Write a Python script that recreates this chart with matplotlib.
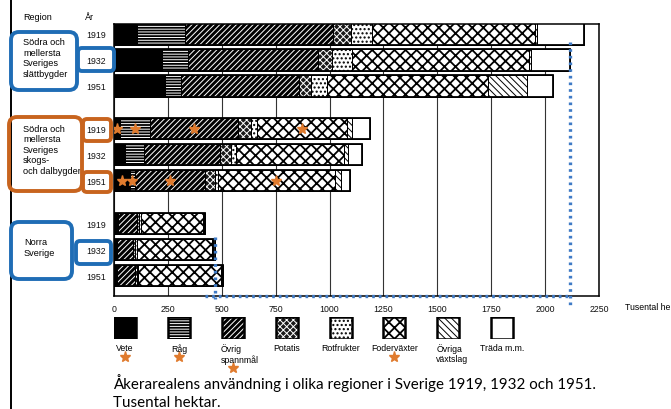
import numpy as np
import matplotlib.pyplot as plt
from matplotlib.patches import Rectangle, FancyBboxPatch
from matplotlib.transforms import IdentityTransform
from matplotlib.lines import Line2D

W, H = 671, 410

plt.rcParams["font.family"] = ["Liberation Sans", "DejaVu Sans"]

kategorier = ["Vete", "Råg", "Övrig\nspannmål", "Potatis", "Rotfrukter",
              "Foderväxter", "Övriga\nväxtslag", "Träda m.m."]
regioner = ["Södra och\nmellersta\nSveriges\nslättbygder",
            "Södra och\nmellersta\nSveriges\nskogs-\noch dalbygder",
            "Norra\nSverige"]
ar = ["1919", "1932", "1951"]

# tusental hektar, samma ordning som kategorier
slatt_1919 = [107, 222, 687, 83, 98, 756, 9, 218]
slatt_1932 = [223, 120, 603, 65, 93, 821, 9, 181]
slatt_1951 = [237, 74, 547, 56, 74, 747, 181, 120]
skog_1919 = [30, 137, 408, 60, 28, 418, 23, 83]
skog_1932 = [51, 88, 353, 51, 23, 501, 18, 65]
skog_1951 = [74, 23, 325, 46, 14, 543, 28, 42]
norr_1919 = [14, 4, 89, 10, 8, 288, 4, 5]
norr_1932 = [9, 4, 75, 10, 11, 345, 5, 9]
norr_1951 = [10, 3, 84, 8, 6, 385, 4, 5]

staplar = [slatt_1919, slatt_1932, slatt_1951,
           skog_1919, skog_1932, skog_1951,
           norr_1919, norr_1932, norr_1951]

# grödor markerade med stjärna, och vilka staplar som får stjärnor
stjarn_kat = [0, 1, 2, 5]
stjarn_staplar = [3, 5]

# (fyllning, mönster, mönsterfärg, mönsterbredd)
monster = [
    ("black", None, None, 1.0),
    ("black", "------", "white", 0.7),
    ("black", "//////", "white", 0.7),
    ("#1a1a1a", "xxxxx", "white", 0.7),
    ("white", "....", "black", 1.0),
    ("white", "xxx", "black", 1.3),
    ("white", "\\\\\\\\\\", "black", 0.7),
    ("white", None, None, 1.0),
]

BLA = "#1f6db5"
ORANGE = "#c8641e"
STJARNA = "#e07b2e"
PRICK = "#3f7bc6"


def px(x, y):
    return x, H - y


def ruta(ax, x, y, w, h, face, hatch, hc, hlw, zorder=2, kant=0.7):
    with plt.rc_context({"hatch.linewidth": hlw}):
        p = Rectangle((x, y), w, h, facecolor=face,
                      edgecolor=hc if hatch else face, hatch=hatch,
                      linewidth=0, zorder=zorder)
    ax.add_patch(p)
    ax.add_patch(Rectangle((x, y), w, h, fill=False, edgecolor="black",
                           linewidth=kant, zorder=zorder + 1))


fig = plt.figure(figsize=(W / 100, H / 100), dpi=100)
ax = fig.add_axes([114 / W, 1 - 297 / H, 485 / W, 272 / H])

pos = [g * 3.65 + j for g in range(3) for j in range(3)]
hojd = 0.82

for y, varden in zip(pos, staplar):
    kant = np.concatenate([[0], np.cumsum(varden)])
    for k, (v, st) in enumerate(zip(varden, monster)):
        ruta(ax, kant[k], y - hojd / 2, v, hojd, *st)
    ax.add_patch(Rectangle((0, y - hojd / 2), kant[-1], hojd, fill=False,
                           edgecolor="black", linewidth=1.3, zorder=5))

for i in stjarn_staplar:
    kant = np.concatenate([[0], np.cumsum(staplar[i])])
    mitt = [(kant[k] + kant[k + 1]) / 2 for k in stjarn_kat]
    ax.plot(mitt, [pos[i]] * len(mitt), ls="none", marker="*", ms=8,
            color=STJARNA, mec=STJARNA, zorder=6)

ax.set_xlim(0, 2250)
ax.set_ylim(10.08, -0.38)
ax.set_xticks(np.arange(0, 2251, 250))
ax.set_yticks(pos, labels=ar * 3)
ax.tick_params(length=0, labelsize=6.3, colors="#111111")
ax.tick_params(axis="x", pad=6)
ax.tick_params(axis="y", pad=6)
ax.grid(axis="x", color="#333333", linewidth=0.8)
ax.set_axisbelow(True)
for s in ax.spines.values():
    s.set_linewidth(1.1)

# prickade hjälplinjer vid 1932 års totaler
tot = [sum(s) for s in staplar]
prick = dict(color=PRICK, lw=2.4, ls=(0, (0.8, 1.2)), clip_on=False,
             zorder=7, dash_capstyle="butt")
ax.plot([tot[1], tot[1]], [0.3, 10.45], **prick)
ax.plot([tot[6], tot[1]], [10.08, 10.08], **prick)
ax.plot([tot[7], tot[7]], [7.8, 10.2], **prick)

fig.text(625 / W, 1 - 308 / H, "Tusental hektar", fontsize=6.3,
         va="center", ha="left")

# teckenförklaring
lax = fig.add_axes([114 / W, 1 - 340 / H, 485 / W, 22 / H])
lax.set_xlim(0, 2250)
lax.set_ylim(0, 1)
lax.axis("off")
for i, (namn, st) in enumerate(zip(kategorier, monster)):
    x0 = i * 250
    ruta(lax, x0, 0, 102, 1, *st, kant=1.8)
    rader = namn.count("\n") + 1
    if rader > 1:
        lax.text(x0 - 5, -0.2, namn, fontsize=6.3, ha="left", va="top",
                 linespacing=1.15, clip_on=False)
    else:
        lax.text(x0 + 51, -0.2, namn, fontsize=6.3, ha="center", va="top",
                 clip_on=False)
    if i in stjarn_kat:
        lax.plot([x0 + 51], [-0.32 - 0.5 * rader], marker="*", ms=8,
                 color=STJARNA, mec=STJARNA, clip_on=False)

# rubriker och regionnamn
fig.text(23 / W, 1 - 18 / H, "Region", fontsize=6.5, va="center")
fig.text(85 / W, 1 - 18 / H, "År", fontsize=6.5, va="center")
fig.text(23 / W, 1 - 38 / H, regioner[0], fontsize=6.6, va="top",
         linespacing=1.22)
fig.text(23 / W, 1 - 125 / H, regioner[1], fontsize=6.6, va="top",
         linespacing=1.2)
fig.text(24 / W, 1 - 238 / H, regioner[2], fontsize=6.6, va="top",
         linespacing=1.22)

# inramningar
ramar = [
    (11, 33, 66, 58, 8, BLA),
    (78, 49, 36, 23, 4, BLA),
    (9, 118, 73, 74, 8, ORANGE),
    (83, 120, 28, 22, 4, ORANGE),
    (83, 173, 28, 20, 4, ORANGE),
    (11, 223, 61, 57, 8, BLA),
    (76, 242, 35, 23, 4, BLA),
]
for x, y, w, h, r, c in ramar:
    x0, y0 = px(x, y + h)
    fig.patches.append(FancyBboxPatch(
        (x0, y0), w, h, boxstyle=f"round,pad=0,rounding_size={r}",
        transform=IdentityTransform(), facecolor="none", edgecolor=c,
        linewidth=2.8, zorder=10))

fig.lines.append(Line2D([11, 11], [0, H], transform=IdentityTransform(),
                        color="black", linewidth=1.4))

fig.text(113 / W, 1 - 383 / H,
         "Åkerarealens användning i olika regioner i Sverige 1919, 1932 och 1951.",
         fontsize=10.9, family="Lato", va="center")
fig.text(113 / W, 1 - 403 / H, "Tusental hektar.", fontsize=10.9,
         family="Lato", va="center")

fig.savefig("out.png", dpi=100)
